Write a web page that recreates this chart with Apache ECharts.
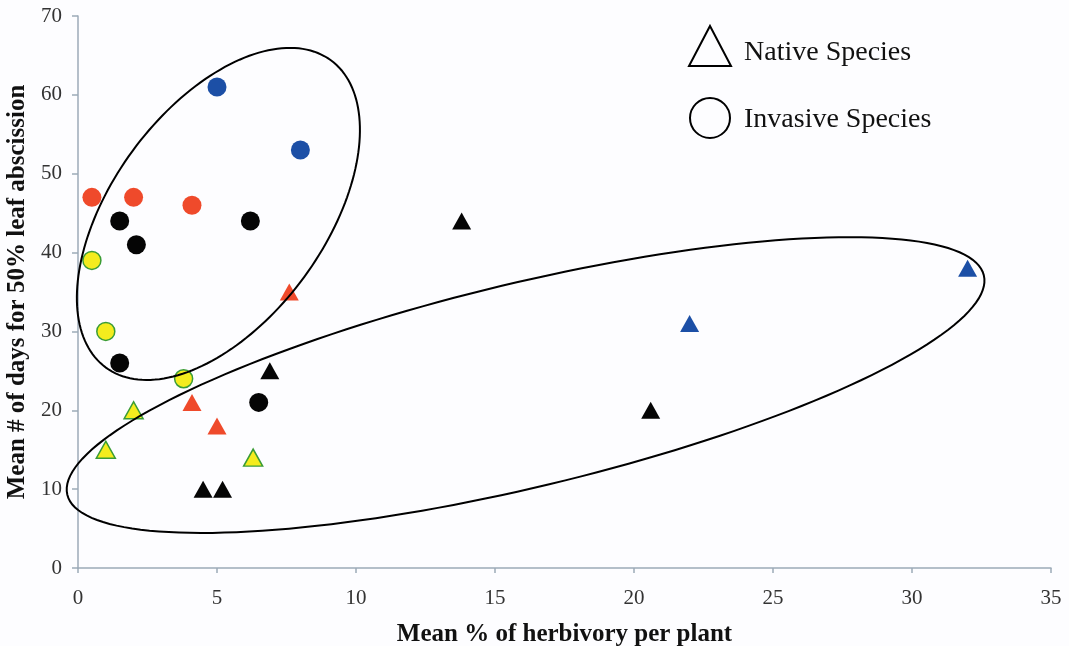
<!DOCTYPE html>
<html>
<head>
<meta charset="utf-8">
<script src="https://cdn.jsdelivr.net/npm/echarts@6/dist/echarts.min.js"></script>
<style>
html,body{margin:0;padding:0;background:#fdfdff;}
#chart{width:1069px;height:646px;}
</style>
</head>
<body>
<div id="chart"></div>
<script>
// ---- Data ----
var xTicks = [0, 5, 10, 15, 20, 25, 30, 35];
var yTicks = [0, 10, 20, 30, 40, 50, 60, 70];

// Invasive species (circles)
var invasiveBlue   = [[5, 61], [8, 53]];
var invasiveRed    = [[0.5, 47], [2, 47], [4.1, 46]];
var invasiveBlack  = [[1.5, 44], [2.1, 41], [6.2, 44], [1.5, 26], [6.5, 21]];
var invasiveYellow = [[0.5, 39], [1, 30], [3.8, 24]];

// Native species (triangles)
var nativeRed    = [[7.6, 35], [4.1, 21], [5, 18]];
var nativeBlack  = [[13.8, 44], [6.9, 25], [20.6, 20], [4.5, 10], [5.2, 10]];
var nativeBlue   = [[32, 38], [22, 31]];
var nativeYellow = [[2, 20], [1, 15], [6.3, 14]];

// Group outlines: [centerX, centerY, semiMajor (x-units), semiMinor (x-units), angle (deg)]
var groupInvasive = [5.05, 44.9, 6.85, 3.83, 53.8];
var groupNative   = [16.1, 23.2, 16.95, 3.67, 13.46];

var SERIF = '"Liberation Serif", "DejaVu Serif", serif';
var AXIS_COLOR = '#9caab8';

function ellipseItem(params, api) {
  var c = api.coord([api.value(0), api.value(1)]);
  var pxPerX = api.size([1, 0])[0];
  var a = api.value(2) * pxPerX;
  var b = api.value(3) * pxPerX;
  var phi = api.value(4) * Math.PI / 180;
  var pts = [];
  var N = 180;
  for (var i = 0; i < N; i++) {
    var t = i / N * Math.PI * 2;
    var ex = a * Math.cos(t), ey = b * Math.sin(t);
    pts.push([c[0] + ex * Math.cos(phi) - ey * Math.sin(phi),
              c[1] - (ex * Math.sin(phi) + ey * Math.cos(phi))]);
  }
  return {
    type: 'polygon',
    shape: { points: pts },
    style: { fill: 'none', stroke: '#000', lineWidth: 2 }
  };
}

function circleSeries(data, fill, border) {
  return {
    name: 'Invasive Species', type: 'scatter', data: data,
    symbol: 'circle', symbolSize: border ? 18 : 19,
    itemStyle: { color: fill, borderColor: border || fill, borderWidth: border ? 1.5 : 0, opacity: 1 },
    z: 3
  };
}
function triSeries(data, fill, border) {
  return {
    name: 'Native Species', type: 'scatter', data: data,
    symbol: 'triangle', symbolSize: [19, 17],
    itemStyle: { color: fill, borderColor: border || fill, borderWidth: border ? 1.5 : 0, opacity: 1 },
    z: 3
  };
}

var legendText = { fontFamily: SERIF, fontSize: 28, color: '#111' };

var chart = echarts.init(document.getElementById('chart'));
chart.setOption({
  animation: false,
  backgroundColor: '#fdfdff',
  grid: { left: 78, right: 18, top: 16, bottom: 78, containLabel: false, outerBoundsMode: 'none' },
  legend: {
    orient: 'vertical', left: 688, top: 25,
    itemWidth: 42, itemHeight: 40, itemGap: 30, padding: 0,
    selectedMode: false,
    formatter: function (name) {
      return name === 'Native Species' ? '{n|' + name + '}' : '{v|' + name + '}';
    },
    textStyle: {
      fontFamily: SERIF, fontSize: 28, color: '#111',
      rich: {
        n: Object.assign({ padding: [14, 0, 0, 8] }, legendText),
        v: Object.assign({ padding: [4, 0, 0, 8] }, legendText)
      }
    },
    data: [
      { name: 'Native Species', icon: 'triangle',
        itemStyle: { color: 'rgba(0,0,0,0)', borderColor: '#000', borderWidth: 2 } },
      { name: 'Invasive Species', icon: 'circle',
        itemStyle: { color: 'rgba(0,0,0,0)', borderColor: '#000', borderWidth: 2 } }
    ]
  },
  xAxis: {
    type: 'value', min: xTicks[0], max: xTicks[xTicks.length - 1], interval: 5,
    name: 'Mean % of herbivory per plant', nameLocation: 'middle', nameGap: 54,
    nameTextStyle: { fontFamily: SERIF, fontSize: 25, fontWeight: 'bold', color: '#111' },
    axisLine: { show: true, lineStyle: { color: AXIS_COLOR, width: 1.5 } },
    axisTick: { show: true, length: 5, lineStyle: { color: AXIS_COLOR, width: 1.5 } },
    axisLabel: { fontFamily: SERIF, fontSize: 21, color: '#333', margin: 20 },
    splitLine: { show: false }
  },
  yAxis: {
    type: 'value', min: yTicks[0], max: yTicks[yTicks.length - 1], interval: 10,
    name: 'Mean # of days for 50% leaf abscission', nameLocation: 'middle', nameGap: 47,
    nameTextStyle: { fontFamily: SERIF, fontSize: 25, fontWeight: 'bold', color: '#111' },
    axisLine: { show: true, lineStyle: { color: AXIS_COLOR, width: 1.5 } },
    axisTick: { show: true, length: 6, lineStyle: { color: AXIS_COLOR, width: 1.5 } },
    axisLabel: { fontFamily: SERIF, fontSize: 21, color: '#333', margin: 16 },
    splitLine: { show: false }
  },
  series: [
    circleSeries(invasiveBlue, '#1c4fa6'),
    circleSeries(invasiveRed, '#ef4a2b'),
    circleSeries(invasiveBlack, '#050505'),
    circleSeries(invasiveYellow, '#f4ec1e', '#3a9c36'),
    triSeries(nativeRed, '#ef4a2b'),
    triSeries(nativeBlack, '#050505'),
    triSeries(nativeBlue, '#1c4fa6'),
    triSeries(nativeYellow, '#f4ec1e', '#3a9c36'),
    {
      name: 'groups', type: 'custom', renderItem: ellipseItem,
      data: [groupInvasive, groupNative],
      encode: { x: 0, y: 1 }, clip: false, silent: true, z: 5
    }
  ]
});
</script>
</body>
</html>
